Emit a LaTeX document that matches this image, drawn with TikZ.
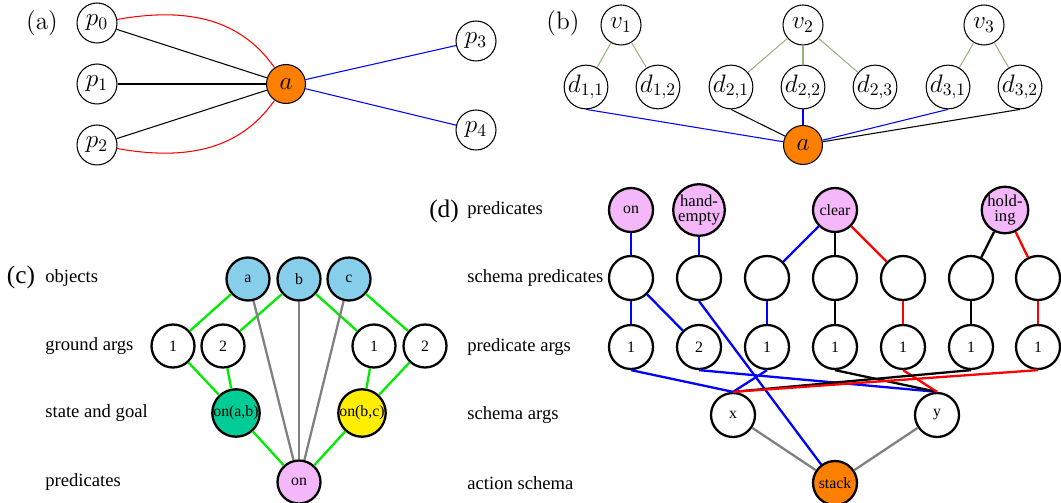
\documentclass[tikz,border=0pt]{standalone}
\usepackage{fontspec}
\newfontfamily\tms{Liberation Serif}
\definecolor{actorange}{RGB}{255,128,0}
\definecolor{domgreen}{RGB}{150,182,125}
\definecolor{objblue}{RGB}{135,206,235}
\definecolor{stategreen}{RGB}{0,204,150}
\definecolor{goalyellow}{RGB}{255,238,0}
\definecolor{predpink}{RGB}{244,184,250}
\definecolor{argline}{RGB}{0,235,0}
\begin{document}
\begin{tikzpicture}[x=0.02cm,y=-0.02cm,
  panel/.style={font=\Large},
  rowlbl/.style={anchor=west,inner sep=0pt,font=\tms\fontsize{10.6}{12}\selectfont},
  mnode/.style={circle,draw,line width=0.6pt,minimum size=0.8cm,inner sep=0pt,font=\Large},
  act/.style={fill=actorange},
  thin edge/.style={line width=0.6pt},
  gnode/.style={circle,draw,line width=1.3pt,minimum size=0.86cm,inner sep=0pt,font=\tms\small},
  dnode/.style={circle,draw,line width=1.3pt,minimum size=0.88cm,inner sep=0pt,font=\tms\small,align=center},
  twoline/.style={font=\tms\fontsize{9.5}{8.6}\selectfont},
  thick edge/.style={line width=1.3pt},
  argedge/.style={thick edge,argline},
  objedge/.style={thick edge,gray}]
\useasboundingbox (0,0) rectangle (1061,503);

% ---------- (a) ----------
\node[panel] (la) at (42,23) {(a)};
\node[mnode] (p0) at (97,23) {$p_0$};
\node[mnode] (p1) at (97,84) {$p_1$};
\node[mnode] (p2) at (97,145) {$p_2$};
\node[mnode,act,minimum size=0.78cm] (aa) at (286,84) {$a$};
\node[mnode] (p3) at (476,41) {$p_3$};
\node[mnode] (p4) at (476,130) {$p_4$};
\draw[thin edge] (p0) -- (aa);
\draw[thin edge] (p1) -- (aa);
\draw[thin edge] (p2) -- (aa);
\draw[thin edge,red] (p0) to[out=10,in=125] (aa);
\draw[thin edge,red] (p2) to[out=-10,in=-125] (aa);
\draw[thin edge,blue] (aa) -- (p3);
\draw[thin edge,blue] (aa) -- (p4);

% ---------- (b) ----------
\node[panel] (lb) at (563,23) {(b)};
\node[mnode] (v1) at (621,25) {$v_1$};
\node[mnode] (v2) at (803,25) {$v_2$};
\node[mnode] (v3) at (984,25) {$v_3$};
\node[mnode] (d11) at (586,87) {$d_{1,1}$};
\node[mnode] (d12) at (658,87) {$d_{1,2}$};
\node[mnode] (d21) at (731,87) {$d_{2,1}$};
\node[mnode] (d22) at (803,87) {$d_{2,2}$};
\node[mnode] (d23) at (875,87) {$d_{2,3}$};
\node[mnode] (d31) at (948,87) {$d_{3,1}$};
\node[mnode] (d32) at (1020,87) {$d_{3,2}$};
\node[mnode,act,minimum size=0.78cm] (ab) at (803,145) {$a$};
\foreach \v/\d in {v1/d11,v1/d12,v2/d21,v2/d22,v2/d23,v3/d31,v3/d32}
  \draw[thin edge,domgreen] (\v) -- (\d);
\draw[thin edge,blue] (d11.south) -- (ab);
\draw[thin edge] (d21.south) -- (ab);
\draw[thin edge,blue] (d22.south) -- (ab);
\draw[thin edge,blue] (d31.south) -- (ab);
\draw[thin edge] (d32.south) -- (ab);

% ---------- (c) ----------
\node[panel,font=\tms\Large] (lc) at (21,277) {(c)};
\node[rowlbl] (c1) at (45,278) {objects};
\node[rowlbl] (c2) at (45,346) {ground args};
\node[rowlbl] (c3) at (45,413) {state and goal};
\node[rowlbl] (c4) at (45,482) {predicates};
\node[gnode,fill=objblue] (oa) at (248,279) {a};
\node[gnode,fill=objblue] (ob) at (299,279) {b};
\node[gnode,fill=objblue] (oc) at (349,279) {c};
\node[gnode] (g1) at (173,346) {1};
\node[gnode] (g2) at (223,346) {2};
\node[gnode] (g3) at (374,346) {1};
\node[gnode] (g4) at (425,346) {2};
\node[gnode,fill=stategreen] (sab) at (236,413) {on(a,b)};
\node[gnode,fill=goalyellow] (sbc) at (362,413) {on(b,c)};
\node[gnode,fill=predpink] (pon) at (299,482) {on};
\draw[argedge] (oa) -- (g1);
\draw[argedge] (ob) -- (g2);
\draw[argedge] (ob) -- (g3);
\draw[argedge] (oc) -- (g4);
\draw[argedge] (g1) -- (sab);
\draw[argedge] (g2) -- (sab);
\draw[argedge] (g3) -- (sbc);
\draw[argedge] (g4) -- (sbc);
\draw[argedge] (sab) -- (pon);
\draw[argedge] (sbc) -- (pon);
\draw[objedge] (oa) -- (pon);
\draw[objedge] (ob) -- (pon);
\draw[objedge] (oc) -- (pon);

% ---------- (d) ----------
\node[panel,font=\tms\Large] (ld) at (444,211) {(d)};
\node[rowlbl] (r1) at (467,210) {predicates};
\node[rowlbl] (r2) at (467,278) {schema predicates};
\node[rowlbl] (r3) at (467,347) {predicate args};
\node[rowlbl] (r4) at (467,415) {schema args};
\node[rowlbl] (r5) at (467,483) {action schema};
% predicates
\node[dnode,fill=predpink] (pr1) at (631,210) {on};
\node[dnode,fill=predpink,twoline] (pr2) at (699,210) {hand-\\empty};
\node[dnode,fill=predpink] (pr3) at (835,210) {clear};
\node[dnode,fill=predpink,twoline] (pr4) at (1005,210) {hold-\\ing};
% schema predicates and their argument slots
\foreach \i/\x in {1/631,2/699,3/767,4/835,5/903,6/971,7/1038}
  \node[dnode] (sp\i) at (\x,278) {};
\foreach \i/\x/\t in {1/631/1,2/699/2,3/767/1,4/835/1,5/903/1,6/971/1,7/1038/1}
  \node[dnode] (pa\i) at (\x,347) {\t};
% schema arguments and action
\node[dnode] (sx) at (733,415) {x};
\node[dnode] (sy) at (937,415) {y};
\node[dnode,fill=actorange] (st) at (835,483) {stack};
% predicate -> schema predicate
\draw[thick edge,blue] (pr1) -- (sp1);
\draw[thick edge,blue] (pr2) -- (sp2);
\draw[thick edge,blue] (pr3) -- (sp3);
\draw[thick edge] (pr3) -- (sp4);
\draw[thick edge,red] (pr3) -- (sp5);
\draw[thick edge] (pr4) -- (sp6);
\draw[thick edge,red] (pr4) -- (sp7);
% schema predicate -> argument slot
\draw[thick edge,blue] (sp1) -- (pa1);
\draw[thick edge,blue] (sp1) -- (pa2);
\draw[thick edge,blue] (sp3) -- (pa3);
\draw[thick edge] (sp4) -- (pa4);
\draw[thick edge,red] (sp5) -- (pa5);
\draw[thick edge] (sp6) -- (pa6);
\draw[thick edge,red] (sp7) -- (pa7);
\draw[thick edge,blue] (sp2.south) -- (st);
% argument slot -> schema argument
\draw[thick edge,blue] (pa1.south) -- (sx.north);
\draw[thick edge,blue] (pa2.south) -- (sy.north);
\draw[thick edge,blue] (pa3.south) -- (sx.north);
\draw[thick edge] (pa4.south) -- (sy.north);
\draw[thick edge,red] (pa5.south) -- (sy.north);
\draw[thick edge] (pa6.south) -- (sx.north);
\draw[thick edge,red] (pa7.south) -- (sx.north);
% schema argument -> action
\draw[objedge] (sx) -- (st);
\draw[objedge] (sy) -- (st);
\end{tikzpicture}
\end{document}
